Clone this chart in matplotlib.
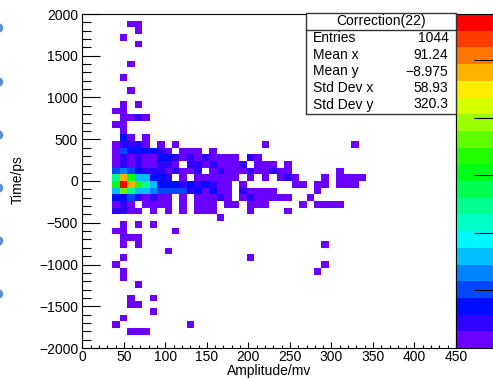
import numpy as np
import matplotlib.pyplot as plt
from matplotlib.colors import ListedColormap, Normalize, hsv_to_rgb
from matplotlib.ticker import MultipleLocator
from matplotlib.patches import Rectangle, Ellipse

plt.rcParams['font.family'] = ['Liberation Sans', 'DejaVu Sans']

# TH2 "Correction(22)": 50 x 50 bins, 0-450 mv and -2000..2000 ps
amp_edges = np.linspace(0, 450, 51)
time_edges = np.linspace(-2000, 2000, 51)
amp_start = 36  # every row below starts at the 36-45 mv bin

# lower edge (ps) of each filled time row, and its counts along amplitude
time_rows = [1840, 1760, 1680, 1600, 1360, 1200, 1040, 880, 800, 720, 640,
             560, 480, 400, 320, 240, 160, 80, 0, -80, -160, -240, -320,
             -400, -480, -560, -640, -720, -800, -880, -960, -1040, -1120,
             -1200, -1280, -1440, -1520, -1600, -1680, -1760, -1840]
row_counts = [
    [0, 0, 1, 1],
    [0, 0, 0, 1],
    [0, 1],
    [0, 0, 0, 1],
    [0, 0, 1],
    [0, 1],
    [0, 0, 1],
    [0, 1, 0, 1],
    [1, 1],
    [0, 1, 1, 4, 1],
    [1, 1],
    [0, 1],
    [0, 7, 1, 0, 1],
    [2, 4, 4, 4, 2, 0, 1, 0, 1, 0, 0, 0, 0, 0, 0, 0, 0, 0, 0, 0, 1,
     0, 0, 0, 0, 0, 0, 0, 0, 0, 0, 0, 1],
    [2, 10, 7, 7, 7, 7, 4, 2, 0, 1, 1, 1, 0, 1],
    [2, 4, 2, 4, 2, 2, 7, 7, 4, 2, 4, 2, 4, 1, 1, 1, 1, 0, 4, 1],
    [2, 4, 2, 4, 2, 2, 4, 4, 2, 0, 4, 4, 2, 4, 1, 1, 1, 4, 0, 1, 1, 1, 0, 1],
    [10, 13, 10, 8, 4, 4, 4, 2, 4, 2, 2, 4, 0, 1, 4, 1, 1, 1, 4, 1, 1, 4,
     1, 1, 0, 0, 0, 0, 0, 0, 1],
    [25, 48, 31, 15, 17, 8, 8, 4, 0, 2, 0, 2, 1, 1, 2, 1, 1, 0, 1, 0, 1, 0,
     1, 4, 1, 0, 0, 0, 1, 0, 1, 1, 1, 1],
    [29, 57, 49, 32, 25, 16, 8, 8, 8, 4, 7, 4, 7, 4, 1, 1, 0, 1, 0, 0, 0,
     0, 0, 0, 1, 1, 0, 1, 1, 0, 1, 1, 1],
    [16, 35, 25, 16, 16, 13, 10, 10, 10, 9, 5, 7, 1, 7, 1, 1, 0, 4, 1, 1, 1,
     1, 0, 0, 0, 0, 0, 1],
    [8, 7, 10, 4, 2, 4, 2, 2, 0, 1, 0, 1, 2, 1, 4, 1, 0, 1, 4, 1, 1, 1, 1, 1,
     0, 0, 1],
    [2, 4, 2, 0, 1, 1, 1, 1, 0, 1, 0, 1, 1, 1, 0, 1, 1, 0, 1, 1, 1, 0, 0, 0,
     0, 1, 0, 1, 1, 1, 1],
    [4, 4, 1, 1, 0, 1, 0, 1, 0, 1, 0, 1, 1, 1, 0, 0, 0, 0, 1, 0, 0, 0, 0, 1],
    [0, 0, 0, 0, 0, 0, 0, 0, 0, 0, 0, 0, 0, 0, 1],
    [0, 1, 0, 1, 0, 1],
    [1, 1, 0, 0, 0, 0, 0, 0, 1],
    [0, 1, 1, 1],
    [0, 1, 0, 1, 0, 0, 0, 0, 0, 0, 0, 0, 0, 0, 0, 0, 0, 0, 0, 0, 0, 0, 0,
     0, 0, 0, 0, 0, 1],
    [0, 0, 0, 0, 0, 0, 0, 1],
    [0, 1, 0, 0, 0, 0, 0, 0, 0, 0, 0, 0, 0, 0, 0, 0, 0, 0, 1],
    [1, 0, 0, 0, 0, 0, 0, 0, 0, 0, 0, 0, 0, 0, 0, 0, 0, 0, 0, 0, 0, 0, 0,
     0, 0, 0, 0, 0, 1],
    [0, 1, 0, 0, 0, 0, 0, 0, 0, 0, 0, 0, 0, 0, 0, 0, 0, 0, 0, 0, 0, 0, 0,
     0, 0, 0, 0, 1],
    [0, 1],
    [0, 0, 0, 1],
    [0, 0, 1, 0, 0, 1],
    [0, 0, 1, 1],
    [0, 0, 0, 0, 0, 1],
    [0, 1],
    [1, 0, 0, 0, 0, 0, 0, 0, 0, 0, 1],
    [0, 0, 1, 1, 1],
]
z_max = 58

stats_title = 'Correction(22)'
stats_names = ['Entries', 'Mean x', 'Mean y', 'Std Dev x', 'Std Dev y']
stats_values = ['1044', '91.24', '\u22128.975', '58.93', '320.3']

# unpack the table into bin centres + weights
dx = amp_edges[1] - amp_edges[0]
dy = time_edges[1] - time_edges[0]
xs, ys, ws = [], [], []
for t, counts in zip(time_rows, row_counts):
    for k, n in enumerate(counts):
        if n > 0:
            xs.append(amp_start + k * dx + dx / 2)
            ys.append(t + dy / 2)
            ws.append(n)

# ROOT rainbow palette, 20 contours
hues = np.linspace(265, 0, 20) / 360.0
palette = ListedColormap(hsv_to_rgb(np.column_stack([hues, np.ones(20), np.ones(20)])))

W, H = 493, 379
fig = plt.figure(figsize=(W / 100, H / 100), dpi=100)


def fx(px):
    return px / W


def fy(py):
    return 1 - py / H


ax = fig.add_axes([fx(82.3), fy(348), fx(456) - fx(82.3), fy(14) - fy(348)])
h = ax.hist2d(xs, ys, bins=[amp_edges, time_edges], weights=ws, cmap=palette,
              norm=Normalize(0, z_max), cmin=0.5)
mesh = h[3]

ax.set_xlim(0, 450)
ax.set_ylim(-2000, 2000)
ax.xaxis.set_major_locator(MultipleLocator(50))
ax.xaxis.set_minor_locator(MultipleLocator(10))
ax.yaxis.set_major_locator(MultipleLocator(500))
ax.yaxis.set_minor_locator(MultipleLocator(100))
ax.tick_params(axis='x', which='major', direction='in', length=4.5, width=0.8, labelsize=10, pad=1.5)
ax.tick_params(axis='x', which='minor', direction='in', length=2.2, width=0.8)
ax.tick_params(axis='y', which='major', direction='in', length=13, width=0.8, labelsize=10, pad=3)
ax.tick_params(axis='y', which='minor', direction='in', length=6.5, width=0.8)
for s in ax.spines.values():
    s.set_linewidth(0.8)

fig.text(fx(269), fy(371.5), 'Amplitude/mv', ha='center', va='center', fontsize=10)
fig.text(fx(18), fy(180), 'Time/ps', ha='center', va='center', rotation=90, fontsize=10)

# palette axis, cut by the right edge of the picture
cax = fig.add_axes([fx(456), fy(348), fx(44), fy(14) - fy(348)])
cb = fig.colorbar(mesh, cax=cax, ticks=[10, 20, 30, 40, 50])
cax.tick_params(direction='in', length=19, width=0.8, labelright=False, right=True)
cb.outline.set_linewidth(0.8)

# stats box
box_l, box_r, box_t, box_b = 306, 456, 13.5, 113.5
fig.add_artist(Rectangle((fx(box_l), fy(box_b)), fx(box_r) - fx(box_l), fy(box_t) - fy(box_b),
                         transform=fig.transFigure, facecolor='white', edgecolor='#333333', lw=1))
fig.add_artist(plt.Line2D([fx(box_l), fx(box_r)], [fy(29.5), fy(29.5)],
                          transform=fig.transFigure, color='#333333', lw=1))
fig.text(fx(381), fy(21.5), stats_title, ha='center', va='center', fontsize=10)
for k, (name, val) in enumerate(zip(stats_names, stats_values)):
    yy = 38.5 + k * 16.5
    fig.text(fx(313), fy(yy), name, ha='left', va='center', fontsize=10)
    fig.text(fx(448.5), fy(yy), val, ha='right', va='center', fontsize=10)

# slide bullets peeking in from the left edge
for by in [28, 82, 135, 188, 241, 294]:
    fig.add_artist(Ellipse((fx(-1.5), fy(by)), fx(8), fy(0) - fy(8),
                           transform=fig.transFigure, color='#5b8fd0'))

fig.savefig('out.png', dpi=100)
